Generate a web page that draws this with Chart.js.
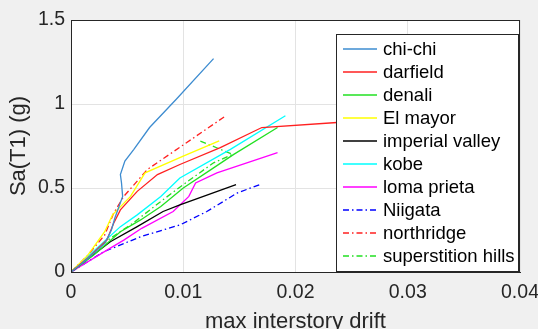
<!DOCTYPE html>
<html>
<head>
<meta charset="utf-8">
<script src="https://cdn.jsdelivr.net/npm/chart.js@4.4.1/dist/chart.umd.min.js"></script>
<style>
  html, body { margin: 0; padding: 0; background: #f0f0f0; }
  #wrap { width: 538px; height: 329px; }
</style>
</head>
<body>
<div id="wrap"><canvas id="ida"></canvas></div>
<script>
// curvas IDA: drift maximo vs Sa(T1)
const seriesNames = ['chi-chi', 'darfield', 'denali', 'El mayor', 'imperial valley',
                     'kobe', 'loma prieta', 'Niigata', 'northridge', 'superstition hills'];

const chichiDrift = [0, 0.0015, 0.0030, 0.0036, 0.0039, 0.0046, 0.0045, 0.0044, 0.0048, 0.0056, 0.0070, 0.0094, 0.0127];
const chichiSa    = [0, 0.08, 0.17, 0.25, 0.32, 0.45, 0.53, 0.58, 0.66, 0.73, 0.86, 1.03, 1.27];

const darfieldDrift = [0, 0.0016, 0.0032, 0.0038, 0.0044, 0.0059, 0.0077, 0.0097, 0.0133, 0.0170, 0.0237, 0.0290];
const darfieldSa    = [0, 0.09, 0.19, 0.29, 0.37, 0.48, 0.58, 0.64, 0.74, 0.86, 0.89, 0.91];

const denaliDrift = [0, 0.0020, 0.0044, 0.0062, 0.0080, 0.0100, 0.0127, 0.0145, 0.0184];
const denaliSa    = [0, 0.10, 0.24, 0.31, 0.39, 0.50, 0.62, 0.70, 0.86];

const elmayorDrift = [0, 0.0015, 0.0030, 0.0037, 0.0053, 0.0066, 0.0100, 0.0132];
const elmayorSa    = [0, 0.10, 0.24, 0.34, 0.45, 0.59, 0.69, 0.78];

const imperialDrift = [0, 0.0035, 0.0059, 0.0082, 0.0097, 0.0147];
const imperialSa    = [0, 0.18, 0.27, 0.36, 0.40, 0.52];

const kobeDrift = [0, 0.0044, 0.0059, 0.0080, 0.0097, 0.0142, 0.0191];
const kobeSa    = [0, 0.27, 0.34, 0.45, 0.56, 0.73, 0.93];

const lomaDrift = [0, 0.0032, 0.0047, 0.0063, 0.0091, 0.0105, 0.0111, 0.0130, 0.0184];
const lomaSa    = [0, 0.13, 0.19, 0.26, 0.36, 0.45, 0.53, 0.59, 0.71];

const niigataDrift = [0, 0.0029, 0.0062, 0.0097, 0.0121, 0.0148, 0.0168];
const niigataSa    = [0, 0.12, 0.21, 0.28, 0.36, 0.47, 0.52];

const northridgeDrift = [0, 0.0015, 0.0030, 0.0038, 0.0047, 0.0068, 0.0138];
const northridgeSa    = [0, 0.10, 0.22, 0.35, 0.45, 0.61, 0.93];

const superstitionDrift = [0, 0.0035, 0.0055, 0.0080, 0.0100, 0.0127, 0.0144, 0.0115];
const superstitionSa    = [0, 0.20, 0.29, 0.42, 0.52, 0.65, 0.70, 0.78];

const xTickLabels = ['0', '0.01', '0.02', '0.03', '0.04'];
const yTickLabels = ['0', '0.5', '1', '1.5'];

const drifts = [chichiDrift, darfieldDrift, denaliDrift, elmayorDrift, imperialDrift,
                kobeDrift, lomaDrift, niigataDrift, northridgeDrift, superstitionDrift];
const sas = [chichiSa, darfieldSa, denaliSa, elmayorSa, imperialSa,
             kobeSa, lomaSa, niigataSa, northridgeSa, superstitionSa];

const cores = ['#3d8cd0', '#ff2020', '#22e022', '#ffff00', '#000000',
               '#00ffff', '#ff00ff', '#0000ff', '#ff2020', '#22e022'];
const dashDot = [6, 3, 1.5, 3];
const tracos = [[], [], [], [], [], [], [], dashDot, dashDot, dashDot];

const datasets = seriesNames.map((nome, i) => ({
    label: nome,
    data: drifts[i].map((x, k) => ({ x: x, y: sas[i][k] })),
    borderColor: cores[i],
    borderDash: tracos[i],
    borderWidth: 1.3,
    pointRadius: 0,
    tension: 0,
    fill: false
}));

const FONTE = '"Liberation Sans", Arial, sans-serif';
const TXT = '#262626';

// fundo cinzento + area branca + moldura
const fundoPlugin = {
    id: 'fundo',
    beforeDraw(chart) {
        const { ctx, chartArea: a } = chart;
        ctx.save();
        ctx.fillStyle = '#f0f0f0';
        ctx.fillRect(0, 0, chart.width, chart.height);
        ctx.fillStyle = '#ffffff';
        ctx.fillRect(a.left, a.top, a.right - a.left, a.bottom - a.top);
        ctx.restore();
    },
    afterDraw(chart) {
        const { ctx, chartArea: a } = chart;
        ctx.save();
        ctx.strokeStyle = TXT;
        ctx.lineWidth = 1;
        ctx.strokeRect(a.left + 0.5, a.top + 0.5, a.right - a.left - 1, a.bottom - a.top);
        ctx.restore();
    }
};

// legenda dentro do grafico (estilo MATLAB)
const legendaPlugin = {
    id: 'legendaDentro',
    afterDatasetsDraw(chart) {
        const { ctx, chartArea: a } = chart;
        const sets = chart.data.datasets;
        const x0 = Math.round(a.right) - 184, x1 = Math.round(a.right) - 1;
        const y0 = Math.round(a.top) + 14, y1 = Math.round(a.bottom);
        const passo = 23;
        ctx.save();
        ctx.fillStyle = '#ffffff';
        ctx.fillRect(x0, y0, x1 - x0, y1 - y0);
        ctx.strokeStyle = TXT;
        ctx.lineWidth = 1;
        ctx.strokeRect(x0 + 0.5, y0 + 0.5, x1 - x0 - 1, y1 - y0 - 1);
        ctx.font = '18.5px ' + FONTE;
        ctx.textBaseline = 'middle';
        sets.forEach((ds, i) => {
            const y = y0 + 15 + i * passo;
            ctx.strokeStyle = cores[i];
            ctx.setLineDash(tracos[i]);
            ctx.lineWidth = 1.4;
            ctx.beginPath();
            ctx.moveTo(x0 + 7, y);
            ctx.lineTo(x0 + 41, y);
            ctx.stroke();
            ctx.setLineDash([]);
            ctx.fillStyle = '#000000';
            ctx.fillText(ds.label, x0 + 47, y + 0.5);
        });
        ctx.restore();
    }
};

new Chart(document.getElementById('ida'), {
    type: 'line',
    data: { datasets: datasets },
    options: {
        responsive: true,
        maintainAspectRatio: false,
        animation: false,
        layout: { padding: { top: 20, right: 0, left: 0, bottom: 0 } },
        plugins: {
            legend: { display: false },
            tooltip: { enabled: false }
        },
        scales: {
            x: {
                type: 'linear',
                min: 0,
                max: 0.04,
                afterFit: s => { s.height = 57; s.paddingRight = 18; s.paddingLeft = 0; },
                afterBuildTicks: s => {
                    s.ticks = xTickLabels.map(t => ({ value: parseFloat(t) }));
                },
                ticks: {
                    color: TXT,
                    font: { family: FONTE, size: 19.5 },
                    padding: 9,
                    maxRotation: 0,
                    callback: (v, i) => xTickLabels[i]
                },
                grid: { color: '#e3e3e3', drawTicks: false },
                border: { color: TXT },
                title: {
                    display: true,
                    text: 'max interstory drift',
                    color: TXT,
                    font: { family: FONTE, size: 22, lineHeight: 0.6 },
                    padding: 0
                }
            },
            y: {
                type: 'linear',
                min: 0,
                max: 1.5,
                afterFit: s => { s.width = 71; },
                afterBuildTicks: s => {
                    s.ticks = yTickLabels.map(t => ({ value: parseFloat(t) }));
                },
                ticks: {
                    color: TXT,
                    font: { family: FONTE, size: 19.5 },
                    padding: 6,
                    callback: (v, i) => yTickLabels[i]
                },
                grid: { color: '#e3e3e3', drawTicks: false },
                border: { color: TXT },
                title: {
                    display: true,
                    text: 'Sa(T1) (g)',
                    color: TXT,
                    font: { family: FONTE, size: 22, lineHeight: 1.2 },
                    padding: { top: 6, bottom: 0 }
                }
            }
        }
    },
    plugins: [fundoPlugin, legendaPlugin]
});
</script>
</body>
</html>
